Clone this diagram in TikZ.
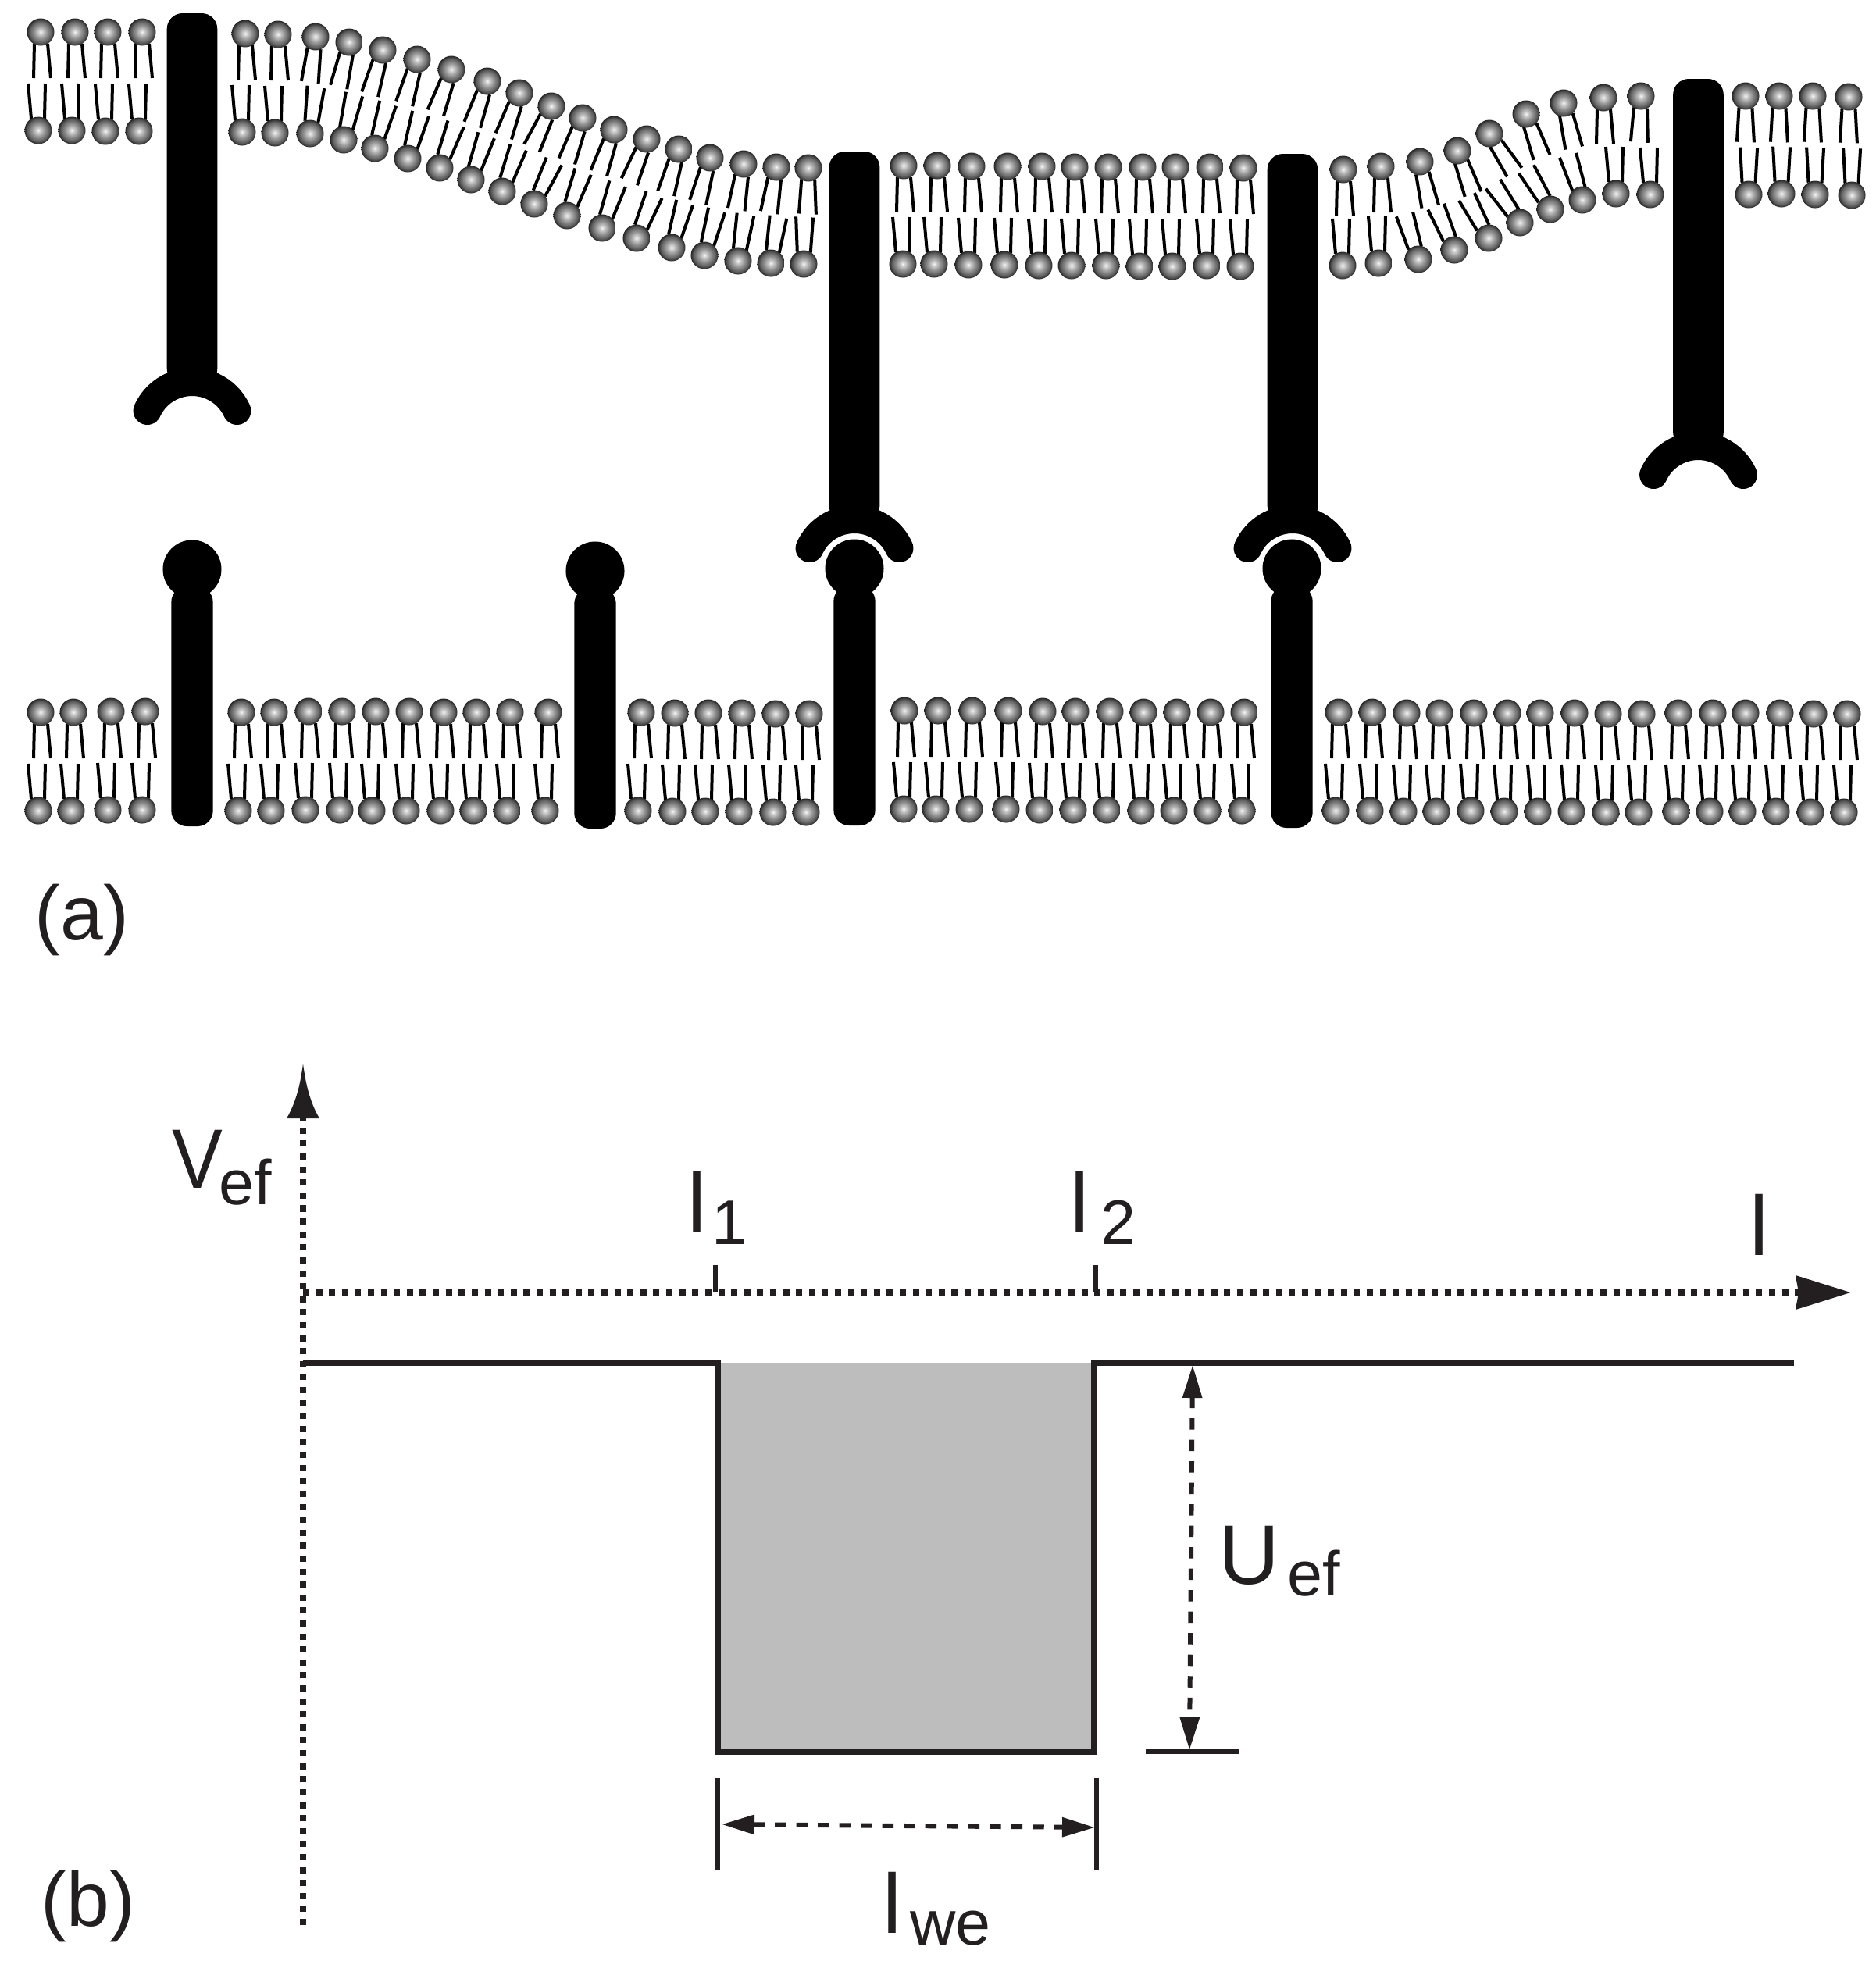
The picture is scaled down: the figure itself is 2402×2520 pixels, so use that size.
\documentclass[tikz,border=0pt]{standalone}
\usepackage{graphicx}
\usepackage{fontspec}
\setmainfont{Liberation Sans}
\usetikzlibrary{arrows.meta}
\pgfdeclareradialshading{headball}{\pgfpoint{0bp}{0bp}}{color(0bp)=(white!97!black); color(3bp)=(white!84!black); color(11bp)=(white!60!black); color(20bp)=(white!36!black); color(25bp)=(white!15!black); color(50bp)=(white!15!black)}
\tikzset{
	lipidhead/.style={shading=headball},
	lipidtail/.style={line width=0.04cm,black},
	receptorbar/.style={fill=black,rounded corners=0.2cm},
	cupline/.style={line width=0.36cm,line cap=round,black},
	axisline/.style={line width=0.08cm,dash pattern=on 0.08cm off 0.086cm,draw=labelink},
	bigtip/.style={-{Stealth[length=0.7cm,width=0.42cm,inset=0.03cm]}},
	wellline/.style={line width=0.08cm,draw=labelink},
	thinline/.style={line width=0.055cm,draw=labelink},
	dimline/.style={line width=0.06cm,dash pattern=on 0.145cm off 0.13cm,draw=labelink,{Stealth[length=0.42cm,width=0.24cm,inset=0]}-{Stealth[length=0.42cm,width=0.24cm,inset=0]}},
	mainlabel/.style={anchor=base west,inner sep=0pt,text=labelink,font=\fontsize{30.7}{33}\selectfont},
	partlabel/.style={anchor=base west,inner sep=0pt,text=labelink,font=\fontsize{28}{31}\selectfont}
}
\definecolor{labelink}{HTML}{231F20}
\definecolor{wellgrey}{HTML}{BDBDBD}
\newcommand{\sublab}[4]{#1\kern#3\raisebox{#4}{\fontsize{23}{25}\selectfont #2}}
\newcommand{\lipidup}[3]{
	\begin{scope}[shift={(#1,#2)},rotate={-(#3)}]
		\draw[lipidtail] (-8,15) -- (-9,59);
		\draw[lipidtail] (9,15) -- (13,59);
	\end{scope}
	\shade[lipidhead] (#1,#2) circle[radius=0.175cm];
}
\newcommand{\lipiddown}[3]{
	\begin{scope}[shift={(#1,#2)},rotate={-(#3)}]
		\draw[lipidtail] (-13,-60) -- (-9,-15);
		\draw[lipidtail] (9,-60) -- (8,-15);
	\end{scope}
	\shade[lipidhead] (#1,#2) circle[radius=0.175cm];
}
\newcommand{\receptor}[3]{
	\fill[receptorbar] ({#1-32.3},#2) rectangle ({#1+32.3},#3-60);
	\draw[cupline] ({#1-57.4},#3-26) arc[start angle=155.6,end angle=24.4,radius=0.63cm];
}
\newcommand{\ligand}[3]{
	\fill[black] (#1,#2) circle[radius=0.375cm];
	\fill[receptorbar] ({#1-26.7},#2+22) rectangle ({#1+26.7},#3);
}
\begin{document}
\begin{tikzpicture}[x=0.01cm,y=-0.01cm]
	\useasboundingbox (0,0) rectangle (2402,2520);
	
	\foreach \x/\y/\t in {52/41/0,96/41/0,138/41/0,182/41/0,
		314/43/0,356/44/0,404/47/9,447/54/15,490/64/18,534/76/18,578/89/22,624/104/21,665/119/22,706/136/27,
		746/151/22,786/166/21,828/178/24,869/191/18,909/202/17,952/210/11,994/214/11,1035/215/3,
		1157/212/0,1200/212/0,1244/213/0,1290/213/0,1334/213/0,1376/214/0,1419/214/0,1463/214/0,1505/214/0,1549/214/0,1592/215/0,
		1720/217/0,1768/213/0,1818/207/-11,1866/193/-18,1907/171/-31,1954/146/-18,2002/132/-11,2053/125/0,2101/123/4,
		2235/123/2,2278/123/2,2321/123/2,2367/124/2}{
		\lipidup{\x}{\y}{\t}
	}
	\foreach \x/\y/\t in {49/167/0,92/167/0,135/168/0,178/168/0,
		310/169/0,352/170/0,397/171/9,440/179/15,480/190/18,522/203/18,563/215/22,603/230/21,643/245/22,684/261/27,
		726/276/22,771/292/21,815/305/24,860/317/18,902/327/17,945/334/11,987/337/11,1029/338/3,
		1156/338/0,1196/338/0,1240/339/0,1286/339/0,1330/340/0,1372/340/0,1416/340/0,1459/341/0,1501/341/0,1545/340/0,1588/341/0,
		1719/340/0,1765/337/0,1816/332/-15,1862/320/-21,1906/305/-26,1946/285/-33,1985/268/-29,2026/256/-16,2069/248/0,2113/249/0,
		2239/249/2,2281/248/2,2324/249/2,2371/250/2}{
		\lipiddown{\x}{\y}{\t}
	}
	
	\foreach \x/\y in {52/912,94/912,142/911,186/911,309/912,351/912,395/911,438/911,481/911,524/911,568/912,610/912,653/912,702/912,
		821/912,864/913,907/913,950/913,993/914,1036/914,
		1158/910,1201/910,1245/910,1291/910,1335/911,1377/911,1421/911,1464/912,1507/912,1550/912,1593/912,
		1714/912,1757/912,1801/913,1843/913,1887/913,1930/913,1972/913,2016/913,2059/914,2102/914,
		2149/913,2193/913,2235/913,2279/913,2322/914,2365/914}{
		\lipidup{\x}{\y}{0}
	}
	\foreach \x/\y in {49/1038,91/1038,138/1037,182/1037,305/1038,347/1038,391/1037,435/1037,476/1038,520/1038,564/1038,606/1038,649/1038,698/1038,
		817/1038,861/1039,903/1039,946/1039,990/1040,1032/1040,
		1157/1036,1198/1036,1241/1036,1288/1036,1331/1037,1374/1037,1417/1037,1461/1038,1503/1038,1546/1038,1590/1038,
		1710/1038,1754/1038,1797/1039,1839/1039,1883/1038,1926/1039,1969/1039,2012/1039,2056/1040,2098/1040,
		2146/1039,2189/1039,2231/1039,2274/1039,2318/1040,2361/1040}{
		\lipiddown{\x}{\y}{0}
	}
	
	\receptor{246}{17}{552}
	\receptor{1094}{194}{728}
	\receptor{1655}{197}{728}
	\receptor{2174.5}{101}{634}
	
	\ligand{246}{729}{1058}
	\ligand{762}{731}{1061}
	\ligand{1094}{728}{1057}
	\ligand{1654}{728}{1060}
	
	\node[partlabel] (parta) at (44,1203) {(a)};
	\node[partlabel] (partb) at (52,2466) {(b)};
	
	\coordinate (vtop) at (388,1432);
	\coordinate (vbottom) at (388,2465);
	\coordinate (hleft) at (388,1655);
	\coordinate (hright) at (2370,1655);
	\draw[axisline,-] (vbottom) -- (vtop);
	\draw[axisline,bigtip] (hleft) -- (hright);
	\fill[labelink] (367,1432) .. controls (380,1410) and (385,1385) .. (388,1362) .. controls (391,1385) and (396,1410) .. (409,1432) -- cycle;
	
	\coordinate (tickone) at (916,1620);
	\coordinate (tickonebase) at (916,1655);
	\coordinate (ticktwo) at (1403,1620);
	\coordinate (ticktwobase) at (1403,1655);
	\draw[thinline] (tickone) -- (tickonebase);
	\draw[thinline] (ticktwo) -- (ticktwobase);
	
	\coordinate (wellstart) at (388,1745);
	\coordinate (welltl) at (919,1745);
	\coordinate (wellbl) at (919,2243);
	\coordinate (wellbr) at (1401,2243);
	\coordinate (welltr) at (1401,1745);
	\coordinate (wellend) at (2297,1745);
	\fill[wellgrey] (welltl) rectangle (wellbr);
	\draw[wellline] (wellstart) -- (welltl) -- (wellbl) -- (wellbr) -- (welltr) -- (wellend);
	
	\coordinate (depthtop) at (1527,1748);
	\coordinate (depthbottom) at (1523,2241);
	\coordinate (depthbarl) at (1467,2243);
	\coordinate (depthbarr) at (1586,2243);
	\draw[dimline] (depthtop) -- (depthbottom);
	\draw[thinline] (depthbarl) -- (depthbarr);
	
	\coordinate (widthltop) at (919,2277);
	\coordinate (widthlbottom) at (919,2395);
	\coordinate (widthrtop) at (1404,2277);
	\coordinate (widthrbottom) at (1404,2395);
	\coordinate (widthl) at (924,2336);
	\coordinate (widthr) at (1402,2340);
	\draw[thinline] (widthltop) -- (widthlbottom);
	\draw[thinline] (widthrtop) -- (widthrbottom);
	\draw[dimline] (widthl) -- (widthr);
	
	\node[mainlabel] (vef) at (220,1521) {\sublab{\scalebox{0.9}[1]{V}}{ef}{-1.4pt}{-6pt}};
	\node[mainlabel] (lone) at (880,1578) {\sublab{l}{1}{1.8pt}{-4.3pt}};
	\node[mainlabel] (ltwo) at (1370,1578) {\sublab{l}{2}{4.3pt}{-4.3pt}};
	\node[mainlabel] (lend) at (2240,1607) {l};
	\node[mainlabel] (uef) at (1560,2028) {\sublab{U}{ef}{2.9pt}{-4.5pt}};
	\node[mainlabel] (lwe) at (1130,2475) {\sublab{l}{we}{3pt}{-4.4pt}};
\end{tikzpicture}
\end{document}
